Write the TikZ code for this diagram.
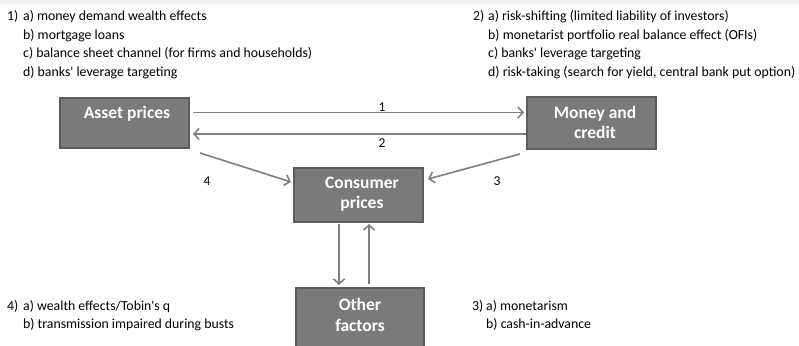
\documentclass[tikz,border=0pt]{standalone}
\usepackage{fontspec}
\setmainfont{Carlito}[Ligatures=TeXOff]
\usetikzlibrary{arrows.meta}
\definecolor{boxfill}{HTML}{7A7A7A}
\definecolor{boxline}{HTML}{5C5C5C}
\definecolor{arrowgray}{HTML}{7F7F7F}
\definecolor{band}{HTML}{F2F2F2}
\begin{document}
\begin{tikzpicture}[x=1pt,y=-1pt,
  box/.style={draw=boxline, line width=2pt, fill=boxfill, inner sep=0pt, minimum width=129pt},
  boxtext/.style={text=white, font=\fontsize{17.5}{20.5}\selectfont\bfseries, align=center, inner sep=0pt},
  conn/.style={draw=arrowgray, line width=1.6pt, -{Straight Barb[length=5pt,width=11pt]}},
  note/.style={font=\fontsize{13.8}{18.6}\selectfont, inner sep=0pt, anchor=base west},
  num/.style={font=\fontsize{13.5}{16}\selectfont, inner sep=0pt}]
\useasboundingbox (0,0) rectangle (799,345);
\clip (0,0) rectangle (799,345);
\fill[band] (0,0) rectangle (799,4);

% boxes
\node[box, minimum height=50pt] (asset) at (124.5,123) {};
\node[box, minimum height=52pt] (money) at (591.5,123) {};
\node[box, minimum height=54pt] (consumer) at (358.5,195) {};
\node[box, minimum width=128pt, minimum height=70pt] (other) at (360,323) {};

\node[boxtext] (assettxt) at (127,114) {Asset prices};
\node[boxtext] (moneytxt) at (595,122.5) {Money and\\credit};
\node[boxtext] (constxt) at (362,194) {Consumer\\prices};
\node[boxtext] (othertxt) at (360,315) {Other\\factors};

% connectors
\draw[conn] ([xshift=3pt,yshift=10.5pt]asset.east) -- ([xshift=-2pt,yshift=10.5pt]money.west);
\draw[conn] ([yshift=-11pt]money.west) -- ([xshift=3pt,yshift=-11pt]asset.east);
\draw[conn] ([xshift=10pt,yshift=-4pt]asset.south east) -- ([xshift=-2pt,yshift=-15pt]consumer.north west);
\draw[conn] ([xshift=-6pt,yshift=-4pt]money.south west) -- ([xshift=4pt,yshift=-12pt]consumer.north east);
\draw[conn] ([xshift=-19.5pt,yshift=-1pt]consumer.south) -- ([xshift=-21pt,yshift=2pt]other.north);
\draw[conn] ([xshift=9pt,yshift=3pt]other.north) -- ([xshift=10.5pt,yshift=-1pt]consumer.south);

\node[num] (l1) at (382,107) {1};
\node[num] (l2) at (382,143) {2};
\node[num] (l4) at (207,181) {4};
\node[num] (l3) at (497,181) {3};

% notes
\node[note] (n1) at (7,20.5) {1)};
\node[note] (n1i) at (23,20.5) {\begin{tabular}[t]{@{}l@{}}a) money demand wealth effects\\ b) mortgage loans\\ c) balance sheet channel (for firms and households)\\ d) banks' leverage targeting\end{tabular}};
\node[note] (n2) at (473,20.5) {2)};
\node[note] (n2i) at (488,20.5) {\begin{tabular}[t]{@{}l@{}}a) risk-shifting (limited liability of investors)\\ b) monetarist portfolio real balance effect (OFIs)\\ c) banks' leverage targeting\\ d) risk-taking (search for yield, central bank put option)\end{tabular}};
\node[note] (n4) at (7,310) {4)};
\node[note] (n4i) at (23,310) {\begin{tabular}[t]{@{}l@{}}a) wealth effects/Tobin's q\\ b) transmission impaired during busts\end{tabular}};
\node[note] (n3) at (472,310) {3)};
\node[note] (n3i) at (486,310) {\begin{tabular}[t]{@{}l@{}}a) monetarism\\ b) cash-in-advance\end{tabular}};
\end{tikzpicture}
\end{document}
